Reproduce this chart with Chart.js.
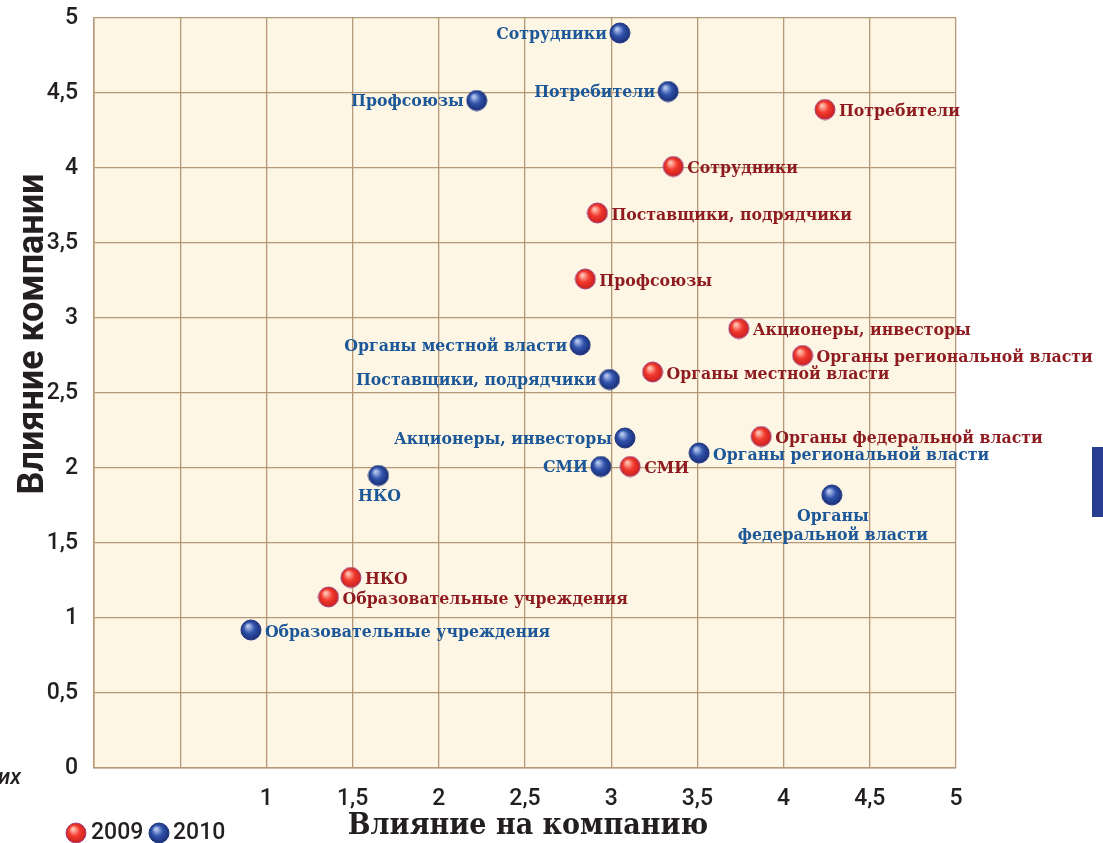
<!DOCTYPE html>
<html lang="ru">
<head>
<meta charset="utf-8">
<title>Влияние компании / Влияние на компанию</title>
<script src="https://cdn.jsdelivr.net/npm/chart.js@4.4.0/dist/chart.umd.min.js"></script>
<style>
html, body { margin: 0; padding: 0; background: #fff; }
</style>
</head>
<body>
<canvas id="stakeholders" width="1103" height="843"></canvas>
<script>
//data
const names2009 = ['Потребители', 'Сотрудники', 'Поставщики, подрядчики', 'Профсоюзы',
    'Акционеры, инвесторы', 'Органы региональной власти', 'Органы местной власти',
    'Органы федеральной власти', 'СМИ', 'НКО', 'Образовательные учреждения'];
const x2009 = [4.24, 3.36, 2.92, 2.85, 3.74, 4.11, 3.24, 3.87, 3.11, 1.49, 1.36];
const y2009 = [4.39, 4.01, 3.70, 3.26, 2.93, 2.75, 2.64, 2.21, 2.01, 1.27, 1.14];

const names2010 = ['Сотрудники', 'Потребители', 'Профсоюзы', 'Органы местной власти',
    'Поставщики, подрядчики', 'Акционеры, инвесторы', 'СМИ', 'Органы региональной власти',
    'Органы\nфедеральной власти', 'НКО', 'Образовательные учреждения'];
const x2010 = [3.05, 3.33, 2.22, 2.82, 2.99, 3.08, 2.94, 3.51, 4.28, 1.65, 0.91];
const y2010 = [4.90, 4.51, 4.45, 2.82, 2.59, 2.20, 2.01, 2.10, 1.82, 1.95, 0.92];

//where the label sits next to its ball
const side2009 = ['right', 'right', 'right', 'right', 'right', 'right', 'right', 'right', 'right', 'right', 'right'];
const side2010 = ['left', 'left', 'left', 'left', 'left', 'left', 'left', 'right', 'below', 'below', 'right'];

const axisTicks = [0, 0.5, 1, 1.5, 2, 2.5, 3, 3.5, 4, 4.5, 5];

//styles
const gridColor = '#b59878';
const textDark = '#231f20';
const red = '#8e1b1f';
const blue = '#1c5797';
const labelFont = 'bold 17.5px "DejaVu Serif Condensed"';

function makeBall(light, base, dark, edge) {
    const c = document.createElement('canvas');
    c.width = 22;
    c.height = 22;
    const g = c.getContext('2d');
    const grad = g.createRadialGradient(8, 7, 1, 11, 11, 11);
    grad.addColorStop(0, light);
    grad.addColorStop(0.45, base);
    grad.addColorStop(1, dark);
    g.fillStyle = grad;
    g.beginPath();
    g.arc(11, 11, 10, 0, Math.PI * 2);
    g.fill();
    g.strokeStyle = edge;
    g.lineWidth = 1;
    g.stroke();
    return c;
}

const redBall = makeBall('#ffc2b2', '#f23a2e', '#c41b1b', '#a2407c');
const blueBall = makeBall('#b4c5ee', '#3154ac', '#17286f', '#1d3580');

const toPoints = (xs, ys) => xs.map((x, i) => ({ x: x, y: ys[i] }));
const fmt = v => String(v).replace('.', ',');

//plot background
const plotBackground = {
    id: 'plotBackground',
    beforeDraw(chart) {
        const { ctx, chartArea } = chart;
        ctx.save();
        ctx.fillStyle = '#fdf6e4';
        ctx.fillRect(chartArea.left, chartArea.top, chartArea.right - chartArea.left, chartArea.bottom - chartArea.top);
        ctx.restore();
    }
};

//labels next to the balls
const pointLabels = {
    id: 'pointLabels',
    afterDatasetsDraw(chart) {
        const ctx = chart.ctx;
        const sets = [
            { names: names2009, sides: side2009, color: red },
            { names: names2010, sides: side2010, color: blue }
        ];
        ctx.save();
        ctx.font = labelFont;
        ctx.textBaseline = 'middle';
        sets.forEach((set, i) => {
            const meta = chart.getDatasetMeta(i);
            ctx.fillStyle = set.color;
            meta.data.forEach((pt, j) => {
                const lines = set.names[j].split('\n');
                const side = set.sides[j];
                if (side === 'right') {
                    ctx.textAlign = 'left';
                    ctx.fillText(lines[0], pt.x + 14, pt.y + 2);
                } else if (side === 'left') {
                    ctx.textAlign = 'right';
                    ctx.fillText(lines[0], pt.x - 13, pt.y + 1);
                } else {
                    ctx.textAlign = 'center';
                    lines.forEach((line, k) => {
                        ctx.fillText(line, pt.x + 1, pt.y + 21 + k * 19);
                    });
                }
            });
        });
        ctx.restore();
    }
};

//axis titles, legend and page leftovers
const decorations = {
    id: 'decorations',
    afterDraw(chart) {
        const ctx = chart.ctx;
        ctx.save();
        ctx.fillStyle = textDark;

        ctx.font = 'bold 36px Roboto';
        ctx.textAlign = 'center';
        ctx.textBaseline = 'middle';
        ctx.save();
        ctx.translate(34, 334);
        ctx.rotate(-Math.PI / 2);
        ctx.fillText('Влияние компании', 0, 0);
        ctx.restore();

        ctx.font = 'bold 30px "DejaVu Serif Condensed"';
        ctx.fillText('Влияние на компанию', 528, 826);

        //legend
        ctx.drawImage(redBall, 65, 822);
        ctx.drawImage(blueBall, 148, 822);
        ctx.font = '500 23px Roboto';
        ctx.textAlign = 'left';
        ctx.fillText('2009', 91, 833);
        ctx.fillText('2010', 173, 833);

        ctx.font = 'italic 500 22px Roboto';
        ctx.fillText('их', -2, 778);

        ctx.fillStyle = '#283d8f';
        ctx.fillRect(1092, 447, 11, 70);
        ctx.restore();
    }
};

const ctx = document.getElementById('stakeholders');

new Chart(ctx, {
    type: 'scatter',
    data: {
        datasets: [{
            label: '2009',
            data: toPoints(x2009, y2009),
            pointStyle: redBall
        },
        {
            label: '2010',
            data: toPoints(x2010, y2010),
            pointStyle: blueBall
        }]
    },
    options: {
        responsive: false,
        animation: false,
        events: [],
        layout: {
            padding: { left: 0, right: 147, top: 18, bottom: 0 }
        },
        plugins: {
            legend: { display: false },
            tooltip: { enabled: false }
        },
        scales: {
            x: {
                type: 'linear',
                min: 0,
                max: 5,
                afterBuildTicks: scale => { scale.ticks = axisTicks.map(v => ({ value: v })); },
                afterFit: scale => { scale.height = 75; },
                ticks: {
                    callback: v => v < 1 ? '' : fmt(v),
                    color: textDark,
                    font: { family: 'Roboto', size: 23, weight: '500' },
                    padding: 17,
                    maxRotation: 0,
                    autoSkip: false
                },
                grid: { color: gridColor, lineWidth: 1.3, drawTicks: false },
                border: { color: gridColor, width: 1.5 }
            },
            y: {
                min: 0,
                max: 5,
                afterBuildTicks: scale => { scale.ticks = axisTicks.map(v => ({ value: v })); },
                afterFit: scale => {
                    scale.width = 94;
                    // don't let the "5" label push the plot down
                    scale.paddingTop = 0;
                    scale.paddingBottom = 0;
                },
                ticks: {
                    callback: v => fmt(v),
                    color: textDark,
                    font: { family: 'Roboto', size: 23, weight: '500' },
                    padding: 16,
                    autoSkip: false
                },
                grid: { color: gridColor, lineWidth: 1.3, drawTicks: false },
                border: { color: gridColor, width: 1.5 }
            }
        }
    },
    plugins: [plotBackground, pointLabels, decorations]
});
</script>
</body>
</html>
